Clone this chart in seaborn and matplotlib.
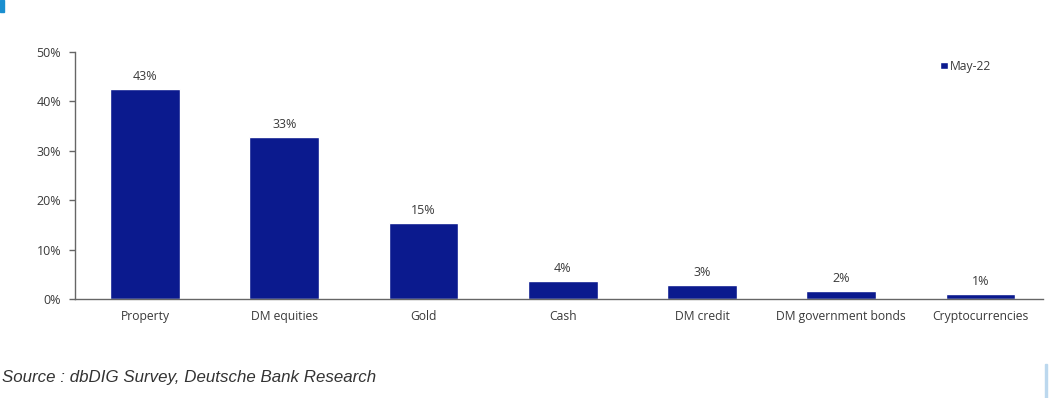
import numpy as np
import pandas as pd
import matplotlib
import seaborn as sns
import matplotlib.pyplot as plt
from matplotlib.patches import Rectangle

assets = ['Property', 'DM equities', 'Gold', 'Cash', 'DM credit',
          'DM government bonds', 'Cryptocurrencies']
share = [42.6, 32.8, 15.4, 3.6, 2.8, 1.6, 1.0]
period = 'May-22'
bar_color = '#0b1a8e'

df = pd.DataFrame({'asset': assets, 'share': share, 'period': period})

sns.set_style('white')
plt.rcParams['font.family'] = ['Open Sans', 'DejaVu Sans']

fig = plt.figure(figsize=(10.5, 3.98), dpi=100)
ax = fig.add_axes([0.0714, 0.249, 0.922, 0.62])

sns.barplot(data=df, x='asset', y='share', hue='period', palette=[bar_color],
            width=0.5, dodge=False, saturation=1, ax=ax)

for p, v in zip(ax.patches, share):
    ax.text(p.get_x() + p.get_width() / 2, v + 1.2, f'{v:.0f}%',
            ha='center', va='bottom', fontsize=9, color='#3a3a3a')

ax.set_ylim(0, 50)
ax.set_yticks(np.arange(0, 51, 10))
ax.set_yticklabels([f'{t}%' for t in range(0, 51, 10)])
ax.set_xlim(-0.503, 6.45)
ax.set_xlabel('')
ax.set_ylabel('')
ax.tick_params(axis='y', length=4, direction='out', width=1, color='#666666',
               labelsize=9, labelcolor='#3a3a3a', pad=6, left=True)
ax.tick_params(axis='x', length=0, labelsize=8.7, labelcolor='#3a3a3a', pad=8)
for s in ['top', 'right']:
    ax.spines[s].set_visible(False)
for s in ['left', 'bottom']:
    ax.spines[s].set_color('#666666')
    ax.spines[s].set_linewidth(1)

leg = ax.legend(loc='center left', bbox_to_anchor=(0.894, 0.943), frameon=False,
                fontsize=8.7, handlelength=0.6, handleheight=0.6, handletextpad=0.2,
                borderaxespad=0, borderpad=0, labelcolor='#3a3a3a')

fig.text(0.002, 0.04, 'Source : dbDIG Survey, Deutsche Bank Research',
         fontsize=12.2, style='italic', color='#333333', family='Liberation Sans')

# small accent marks at the picture edges
fig.patches.append(Rectangle((0, 0.97), 0.004, 0.03, transform=fig.transFigure,
                             color='#1a8fd0', zorder=5))
fig.patches.append(Rectangle((0.9955, 0.0), 0.0015, 0.085, transform=fig.transFigure,
                             color='#bcd8ee', zorder=5))

fig.savefig('out.png', dpi=100)
